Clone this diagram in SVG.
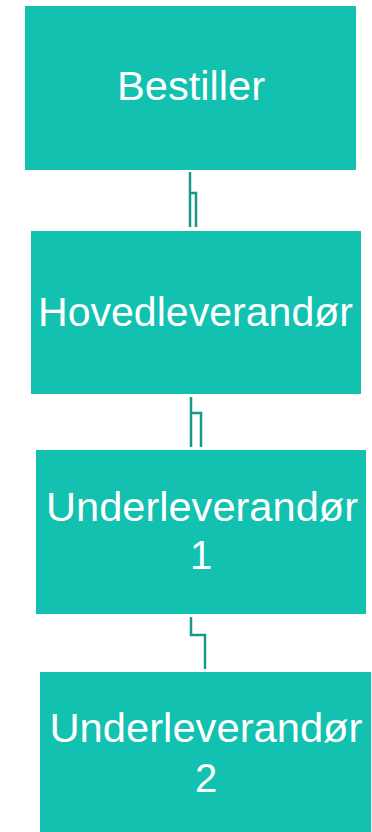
<svg xmlns="http://www.w3.org/2000/svg" width="372" height="832" viewBox="0 0 372 832">
<style>
.box{fill:#12C1B0;}
.lbl{font-family:"Liberation Sans",Arial,sans-serif;font-size:40px;fill:#ffffff;text-anchor:middle;}
.conn{fill:none;stroke:#17998A;stroke-width:2.5;stroke-linejoin:miter;}
</style>
<rect width="372" height="832" fill="#ffffff"/>
<g id="bestiller">
<rect class="box" x="25" y="6" width="331" height="164"/>
<text class="lbl" x="191" y="100" textLength="148" lengthAdjust="spacingAndGlyphs">Bestiller</text>
</g>
<g id="hovedleverandor">
<rect class="box" x="31" y="231" width="330" height="163"/>
<text class="lbl" x="195.5" y="326" textLength="315" lengthAdjust="spacingAndGlyphs">Hovedleverandør</text>
</g>
<g id="underleverandor1">
<rect class="box" x="36" y="450" width="330" height="164"/>
<text class="lbl" x="202" y="521" textLength="312" lengthAdjust="spacingAndGlyphs">Underleverandør</text>
<text class="lbl" x="201" y="569">1</text>
</g>
<g id="underleverandor2">
<rect class="box" x="40" y="672" width="331" height="160"/>
<text class="lbl" x="206" y="742" textLength="313" lengthAdjust="spacingAndGlyphs">Underleverandør</text>
<text class="lbl" x="206" y="792">2</text>
</g>
<g id="connectors">
<path class="conn" d="M190,172 V227 M190,193 H196 V227"/>
<path class="conn" d="M191,397 V447 M191,413 H201 V447"/>
<path class="conn" d="M191,617 V635 H205 V669"/>
</g>
</svg>
